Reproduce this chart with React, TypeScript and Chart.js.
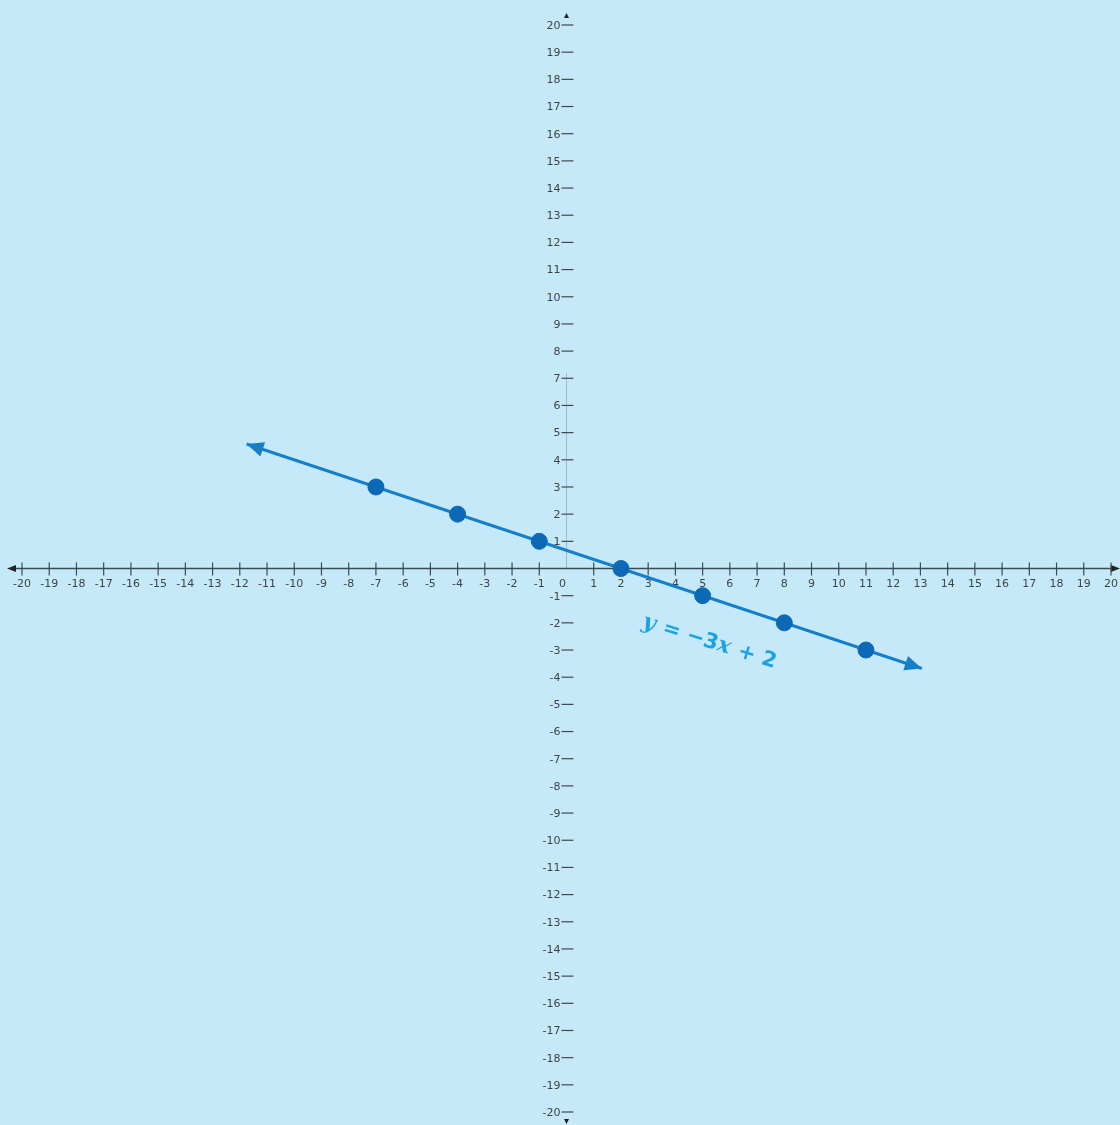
import React, { useEffect, useRef } from 'react';
import { Chart, registerables } from 'chart.js';

Chart.register(...registerables);

// ---- data ----
const pointXs = [-7, -4, -1, 2, 5, 8, 11];
const pointYs = [3, 2, 1, 0, -1, -2, -3];
const lineXs = [-11.75, 13.05];
const lineYs = [4.58, -3.68];
const xTickValues = [-20, -19, -18, -17, -16, -15, -14, -13, -12, -11, -10, -9, -8, -7, -6, -5, -4, -3, -2, -1, 0, 1, 2, 3, 4, 5, 6, 7, 8, 9, 10, 11, 12, 13, 14, 15, 16, 17, 18, 19, 20];
const yTickValues = [-20, -19, -18, -17, -16, -15, -14, -13, -12, -11, -10, -9, -8, -7, -6, -5, -4, -3, -2, -1, 1, 2, 3, 4, 5, 6, 7, 8, 9, 10, 11, 12, 13, 14, 15, 16, 17, 18, 19, 20];
const equationParts = [
  { text: 'y', italic: true },
  { text: ' = \u22123', italic: false },
  { text: 'x', italic: true },
  { text: ' + 2', italic: false },
];
const labelAnchor = { x: 2.75, y: -2.15 };

const BG = '#c6e9f9';
const AXIS = '#3d4a52';
const LABEL = '#3f4447';
const LINE = '#1580c8';
const POINT = '#0c69b6';
const EQ = '#1aa2e2';

function arrowHead(ctx: CanvasRenderingContext2D, tx: number, ty: number, fx: number, fy: number, len: number, half: number, color: string) {
  const a = Math.atan2(ty - fy, tx - fx);
  ctx.save();
  ctx.fillStyle = color;
  ctx.beginPath();
  ctx.moveTo(tx, ty);
  ctx.lineTo(tx - len * Math.cos(a) + half * Math.sin(a), ty - len * Math.sin(a) - half * Math.cos(a));
  ctx.lineTo(tx - len * Math.cos(a) - half * Math.sin(a), ty - len * Math.sin(a) + half * Math.cos(a));
  ctx.closePath();
  ctx.fill();
  ctx.restore();
}

const axesPlugin = {
  id: 'coordAxes',
  beforeDatasetsDraw(chart: any) {
    const { ctx, scales } = chart;
    const xs = scales.x, ys = scales.y;
    const x0 = xs.getPixelForValue(0);
    const y0 = ys.getPixelForValue(0);
    ctx.save();
    // faint vertical axis segment
    ctx.strokeStyle = 'rgba(90,100,110,0.35)';
    ctx.lineWidth = 1;
    ctx.beginPath();
    ctx.moveTo(x0, ys.getPixelForValue(7.2));
    ctx.lineTo(x0, y0);
    ctx.stroke();
    // x axis line
    ctx.strokeStyle = AXIS;
    ctx.lineWidth = 1.3;
    ctx.beginPath();
    ctx.moveTo(12, y0);
    ctx.lineTo(1114, y0);
    ctx.stroke();
    arrowHead(ctx, 7, y0, 20, y0, 9, 3.5, '#222');
    arrowHead(ctx, 1120, y0, 1100, y0, 9, 3.5, '#222');
    arrowHead(ctx, x0, 13, x0, 30, 5, 2.5, '#222');
    arrowHead(ctx, x0, 1124, x0, 1100, 5, 2.5, '#222');
    // x ticks and labels
    ctx.font = '11px "DejaVu Sans", sans-serif';
    ctx.fillStyle = LABEL;
    ctx.textAlign = 'center';
    ctx.textBaseline = 'middle';
    ctx.lineWidth = 1.2;
    for (const v of xTickValues) {
      const px = xs.getPixelForValue(v);
      if (v !== 0) {
        ctx.beginPath();
        ctx.moveTo(px, y0 - 6);
        ctx.lineTo(px, y0 + 7);
        ctx.stroke();
      }
      ctx.fillText(String(v), v === 0 ? px - 4 : px, y0 + 16);
    }
    // y ticks and labels
    ctx.textAlign = 'right';
    for (const v of yTickValues) {
      const py = ys.getPixelForValue(v);
      ctx.beginPath();
      ctx.moveTo(x0 - 5, py);
      ctx.lineTo(x0 + 7, py);
      ctx.stroke();
      ctx.fillText(String(v), x0 - 6, py + 1);
    }
    ctx.restore();
  },
  afterDatasetsDraw(chart: any) {
    const { ctx, scales } = chart;
    const xs = scales.x, ys = scales.y;
    const p0x = xs.getPixelForValue(lineXs[0]), p0y = ys.getPixelForValue(lineYs[0]);
    const p1x = xs.getPixelForValue(lineXs[1]), p1y = ys.getPixelForValue(lineYs[1]);
    arrowHead(ctx, p0x, p0y, p1x, p1y, 17, 7.5, LINE);
    arrowHead(ctx, p1x, p1y, p0x, p0y, 17, 7.5, LINE);
    // equation label
    const angle = Math.atan2(p1y - p0y, p1x - p0x) - 0.02;
    const ax = xs.getPixelForValue(labelAnchor.x);
    const ay = ys.getPixelForValue(labelAnchor.y);
    ctx.save();
    ctx.translate(ax, ay);
    ctx.rotate(angle);
    ctx.fillStyle = EQ;
    ctx.textAlign = 'left';
    ctx.textBaseline = 'alphabetic';
    let cx = 0;
    for (const part of equationParts) {
      ctx.font = part.italic
        ? 'italic bold 22px "DejaVu Serif", serif'
        : 'bold 21px "DejaVu Sans", sans-serif';
      ctx.fillText(part.text, cx, 0);
      cx += ctx.measureText(part.text).width + (part.italic ? 1 : 0);
    }
    ctx.restore();
  },
};

export default function App() {
  const canvasRef = useRef<HTMLCanvasElement | null>(null);
  useEffect(() => {
    document.body.style.margin = '0';
    document.body.style.background = BG;
    const canvas = canvasRef.current;
    if (!canvas) return;
    const chart = new Chart(canvas, {
      type: 'scatter',
      data: {
        datasets: [
          {
            label: 'points',
            data: pointXs.map((x, i) => ({ x, y: pointYs[i] })),
            backgroundColor: POINT,
            borderColor: POINT,
            pointRadius: 8,
            pointHoverRadius: 8,
            showLine: false,
            order: 0,
          },
          {
            label: 'line',
            data: lineXs.map((x, i) => ({ x, y: lineYs[i] })),
            borderColor: LINE,
            borderWidth: 3,
            pointRadius: 0,
            showLine: true,
            order: 1,
          },
        ],
      },
      options: {
        animation: false,
        responsive: true,
        maintainAspectRatio: false,
        layout: { padding: { left: 22, right: 9, top: 25, bottom: 13 } },
        plugins: { legend: { display: false }, tooltip: { enabled: false } },
        events: [],
        scales: {
          x: { type: 'linear', min: -20, max: 20, display: false },
          y: { type: 'linear', min: -20, max: 20, display: false },
        },
      },
      plugins: [axesPlugin],
    });
    return () => chart.destroy();
  }, []);
  return (
    <div style={{ width: 1120, height: 1125, background: BG, position: 'relative' }}>
      <canvas ref={canvasRef} />
    </div>
  );
}
